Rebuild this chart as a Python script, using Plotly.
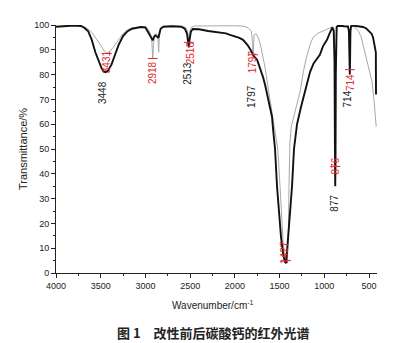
import plotly.graph_objects as go

# Black curve (thick)
black_wn = [4000, 3900, 3800, 3720, 3680, 3640, 3600, 3560, 3520, 3490, 3465, 3445, 3420, 3380, 3340, 3300,
            3250, 3200, 3150, 3100, 3050, 3000, 2980, 2960, 2935, 2925, 2918, 2905, 2890, 2870, 2855, 2845,
            2830, 2800, 2700, 2600, 2560, 2535, 2522, 2515, 2507, 2492, 2470, 2400, 2300, 2200, 2100, 2054,
            2000, 1950, 1909, 1860, 1825, 1808, 1790, 1752, 1720, 1685, 1660, 1630, 1600, 1585, 1573, 1551,
            1529, 1505, 1484, 1460, 1440, 1427, 1417, 1400, 1380, 1361, 1339, 1305, 1260, 1216, 1160, 1120,
            1082, 1050, 1014, 970, 936, 910, 895, 886, 882, 878, 875, 872, 868, 862, 850, 820, 780, 750,
            735, 725, 719, 715, 712, 708, 700, 680, 640, 600, 567, 530, 489, 470, 455, 440, 432, 424, 422]
black_t = [99.3, 99.6, 99.8, 99.6, 98.8, 97.5, 94.0, 89.0, 85.0, 82.5, 81.2, 81.0, 81.5, 84.0, 88.0, 92.0,
           95.5, 97.5, 98.5, 99.0, 99.2, 99.0, 97.8, 96.5, 95.3, 94.3, 93.8, 95.2, 95.8, 95.3, 94.8, 96.5,
           98.5, 99.3, 99.5, 99.3, 98.5, 96.5, 93.0, 91.0, 94.0, 97.3, 98.4, 98.3, 97.6, 97.1, 96.6, 96.0,
           95.4, 94.8, 94.0, 92.0, 90.0, 88.7, 87.6, 86.0, 83.0, 79.0, 75.5, 71.0, 66.0, 63.0, 58.0, 50.0,
           35.0, 23.0, 14.5, 7.5, 4.4, 4.0, 8.5, 17.0, 27.0, 35.0, 50.0, 60.0, 67.0, 73.0, 81.0, 84.5,
           86.5, 88.0, 91.5, 94.0, 97.0, 99.0, 97.5, 85.0, 55.0, 35.0, 45.0, 80.0, 96.0, 99.2, 99.6, 99.7, 99.5, 99.6,
           99.4, 97.5, 88.0, 80.0, 86.0, 97.5, 99.6, 99.8, 99.6, 99.3, 99.2, 98.6, 97.2, 96.4, 95.0, 92.0, 90.5, 89.0, 72.0]

# Gray curve (thin)
gray_wn = [4000, 3900, 3800, 3720, 3680, 3640, 3600, 3550, 3500, 3460, 3431, 3400, 3360, 3300, 3250, 3200,
           3150, 3050, 2990, 2960, 2940, 2928, 2918, 2910, 2900, 2880, 2862, 2852, 2845, 2830, 2800, 2600,
           2550, 2530, 2516, 2508, 2490, 2450, 2200, 2000, 1900, 1850, 1815, 1803, 1797, 1792, 1785, 1765,
           1740, 1719, 1690, 1663, 1630, 1600, 1570, 1545, 1520, 1500, 1480, 1460, 1445, 1430, 1421, 1412,
           1403, 1395, 1385, 1370, 1340, 1310, 1272, 1235, 1200, 1160, 1126, 1080, 1020, 970, 936, 905, 890,
           884, 880, 876, 872, 868, 862, 850, 800, 760, 735, 725, 719, 714, 710, 705, 690, 660, 620, 590,
           567, 540, 510, 485, 466, 445, 430, 420]
gray_t = [99.4, 99.6, 99.8, 99.6, 99.2, 98.3, 97.0, 94.5, 91.5, 89.5, 88.7, 89.2, 91.0, 94.0, 96.5, 98.0,
          98.8, 99.3, 99.0, 97.8, 96.0, 93.0, 86.5, 92.0, 96.0, 96.5, 95.5, 89.0, 95.0, 98.5, 99.5, 99.5,
          99.0, 97.8, 93.0, 96.5, 99.0, 99.6, 99.7, 99.7, 99.5, 98.8, 97.5, 93.0, 87.0, 92.0, 96.0, 96.5,
          95.0, 92.7, 87.5, 83.0, 75.0, 68.0, 61.0, 56.0, 50.0, 38.0, 24.0, 12.0, 7.5, 5.5, 5.0, 7.0,
          14.0, 35.0, 52.0, 59.0, 63.0, 67.0, 73.0, 81.0, 87.0, 92.0, 95.0, 96.5, 97.5, 98.2, 99.0, 99.4, 98.5,
          92.0, 65.0, 43.0, 60.0, 90.0, 98.5, 99.4, 99.6, 99.5, 99.3, 97.0, 88.0, 82.0, 90.0, 98.5, 99.4, 99.2, 97.5, 95.5,
          92.0, 88.0, 84.0, 80.0, 77.0, 70.0, 63.0, 59.0]

# Peak labels
black_lbl = ["3448", "2513", "1797", "877", "714"]
black_lbl_x = [3474, 2530, 1808, 891, 746]
black_lbl_y = [72.6, 80.5, 71.0, 28.0, 70.0]

red_lbl = ["3431", "2918", "2516", "1797", "1427", "876", "714"]
red_lbl_x = [3441, 2927, 2502, 1808, 1440, 880, 713]
red_lbl_y = [85.0, 81.0, 89.0, 85.0, 8.5, 43.0, 77.0]

red_mark_x = [3431, 2918, 2516, 1797, 1427, 876, 714]
red_mark_y = [88.5, 86.5, 93.0, 88.0, 5.0, 43.0, 82.0]

xticks = [4000, 3500, 3000, 2500, 2000, 1500, 1000, 500]
yticks = [0, 10, 20, 30, 40, 50, 60, 70, 80, 90, 100]

font_family = "Liberation Sans, Arial, sans-serif"

fig = go.Figure()
fig.add_trace(go.Scatter(x=gray_wn, y=gray_t, mode="lines",
                         line=dict(color="#a8a8a8", width=1), showlegend=False))
fig.add_trace(go.Scatter(x=black_wn, y=black_t, mode="lines",
                         line=dict(color="#111111", width=1.9), showlegend=False))
fig.add_trace(go.Scatter(x=red_mark_x, y=red_mark_y, mode="markers",
                         marker=dict(symbol="line-ew", size=7, line=dict(color="#e0282e", width=1)),
                         showlegend=False))

for t, x, y in zip(black_lbl, black_lbl_x, black_lbl_y):
    fig.add_annotation(x=x, y=y, text=t, textangle=-90, showarrow=False,
                       font=dict(family=font_family, size=10, color="#222222"))
for t, x, y in zip(red_lbl, red_lbl_x, red_lbl_y):
    fig.add_annotation(x=x, y=y, text=t, textangle=-90, showarrow=False,
                       font=dict(family=font_family, size=10, color="#e0282e"))

# axis titles and caption
fig.add_annotation(xref="paper", yref="paper", x=0.49, y=0, xanchor="center", yanchor="middle",
                   yshift=-32, text="Wavenumber/cm<sup>-1</sup>",
                   showarrow=False, font=dict(family=font_family, size=10, color="#222222"))
fig.add_annotation(xref="paper", yref="paper", x=0, xshift=-33, y=0.5, xanchor="center", yanchor="middle",
                   text="Transmittance/%", textangle=-90, showarrow=False,
                   font=dict(family=font_family, size=11, color="#222222"))
fig.add_annotation(xref="paper", yref="paper", x=0.49, y=0, xanchor="center", yanchor="middle",
                   yshift=-59, text="图 1　改性前后碳酸钙的红外光谱", showarrow=False,
                   font=dict(family="Noto Sans CJK SC", size=13, color="#222222", weight=600))

fig.update_xaxes(range=[4000, 411], tickvals=xticks, ticks="outside", ticklen=4, tickwidth=1,
                 tickcolor="#222", showline=True, linecolor="#222", linewidth=1, showgrid=False,
                 zeroline=False, tickfont=dict(family=font_family, size=9, color="#222"),
                 minor=dict(ticks="outside", dtick=250, ticklen=2, tickcolor="#222", showgrid=False))
fig.update_yaxes(range=[0, 100], tickvals=yticks, ticks="outside", ticklen=4, tickwidth=1,
                 tickcolor="#222", showline=True, linecolor="#222", linewidth=1, showgrid=False,
                 zeroline=False, tickfont=dict(family=font_family, size=9, color="#222"),
                 minor=dict(ticks="outside", dtick=5, ticklen=2, tickcolor="#222", showgrid=False))

fig.update_layout(width=405, height=343, margin=dict(l=56, r=28, t=25, b=70),
                  plot_bgcolor="white", paper_bgcolor="white")

fig.write_html("out.html")
